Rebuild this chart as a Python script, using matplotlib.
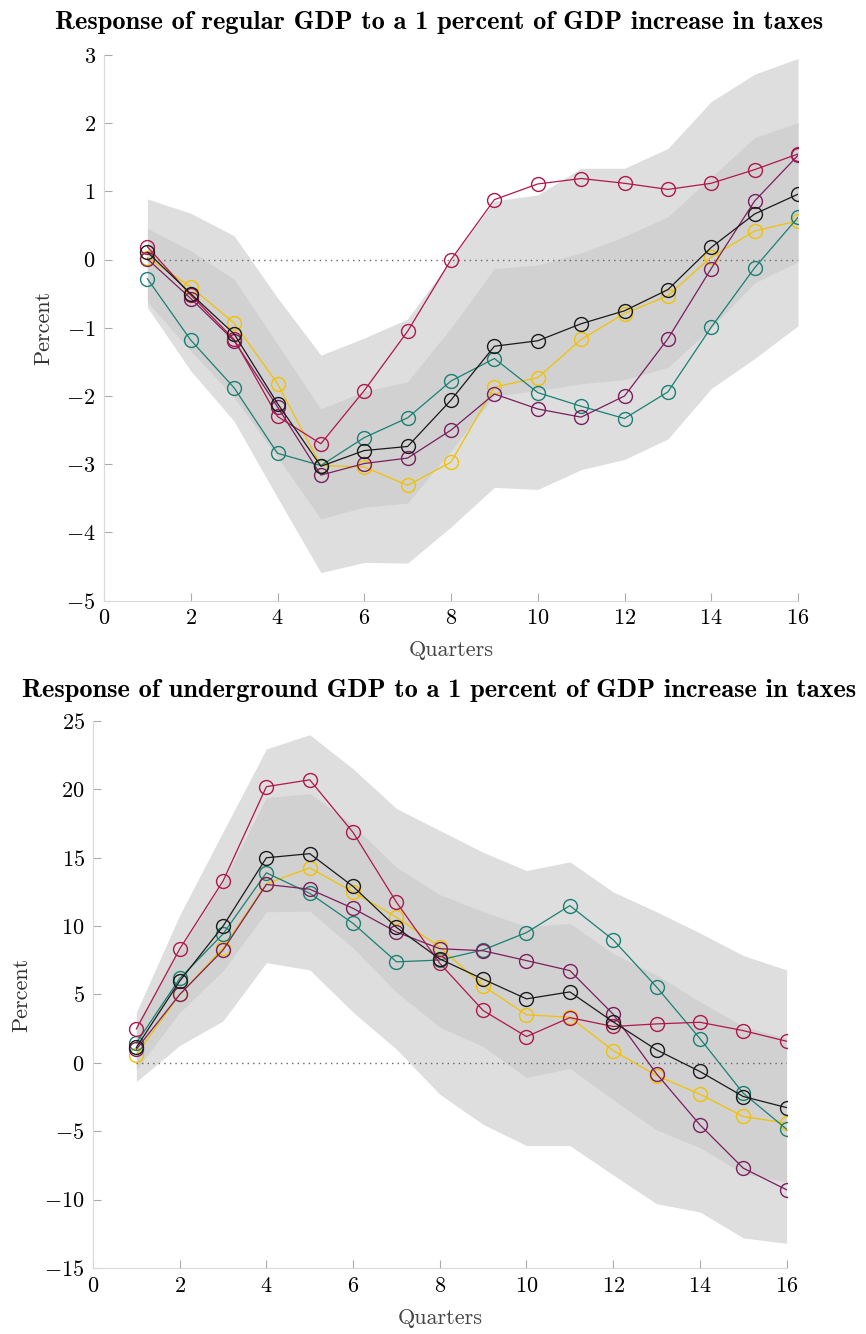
import numpy as np
import matplotlib
matplotlib.use('Agg')
import matplotlib.pyplot as plt

plt.rcParams['font.family'] = 'serif'
plt.rcParams['font.serif'] = ['cmr10']
plt.rcParams['mathtext.fontset'] = 'cm'
plt.rcParams['axes.formatter.use_mathtext'] = True

quarters = list(range(1, 17))

# regular GDP responses
reg_black = [0.11, -0.50, -1.09, -2.11, -3.03, -2.80, -2.74, -2.06, -1.27, -1.19, -0.94, -0.75, -0.44, 0.18, 0.67, 0.96]
reg_red = [0.19, -0.52, -1.17, -2.30, -2.70, -1.92, -1.05, 0.00, 0.88, 1.11, 1.19, 1.12, 1.03, 1.12, 1.32, 1.55]
reg_purple = [0.01, -0.57, -1.19, -2.16, -3.16, -2.99, -2.91, -2.50, -1.97, -2.19, -2.31, -2.00, -1.16, -0.13, 0.86, 1.53]
reg_teal = [-0.28, -1.18, -1.88, -2.84, -3.02, -2.61, -2.32, -1.78, -1.45, -1.95, -2.15, -2.33, -1.94, -0.99, -0.12, 0.62]
reg_yellow = [0.03, -0.40, -0.93, -1.82, -3.02, -3.04, -3.31, -2.97, -1.87, -1.73, -1.17, -0.79, -0.53, 0.04, 0.42, 0.57]
reg_outer_hi = [0.89, 0.68, 0.35, -0.56, -1.40, -1.15, -0.87, 0.00, 0.86, 0.95, 1.34, 1.34, 1.63, 2.32, 2.72, 2.95]
reg_inner_hi = [0.46, 0.13, -0.29, -1.24, -2.19, -1.93, -1.79, -1.00, -0.13, -0.08, 0.10, 0.34, 0.63, 1.21, 1.79, 2.01]
reg_inner_lo = [-0.62, -1.34, -2.02, -2.90, -3.80, -3.63, -3.57, -2.80, -2.00, -1.92, -1.82, -1.76, -1.58, -1.00, -0.34, -0.03]
reg_outer_lo = [-0.70, -1.63, -2.37, -3.49, -4.59, -4.44, -4.45, -3.92, -3.34, -3.37, -3.08, -2.93, -2.63, -1.89, -1.45, -0.97]

# underground GDP responses
und_black = [1.13, 5.98, 10.0, 15.0, 15.3, 12.9, 9.9, 7.6, 6.12, 4.68, 5.19, 3.0, 0.95, -0.63, -2.46, -3.27]
und_red = [2.48, 8.33, 13.3, 20.2, 20.7, 16.85, 11.75, 7.28, 3.83, 1.92, 3.31, 2.66, 2.85, 2.97, 2.36, 1.58]
und_purple = [1.0, 5.0, 8.25, 13.05, 12.7, 11.3, 9.57, 8.35, 8.2, 7.48, 6.75, 3.56, -0.8, -4.53, -7.7, -9.28]
und_teal = [1.46, 6.17, 9.43, 13.9, 12.4, 10.2, 7.39, 7.52, 8.26, 9.53, 11.5, 9.0, 5.55, 1.78, -2.22, -4.85]
und_yellow = [0.6, 5.0, 8.4, 13.1, 14.26, 12.5, 10.65, 8.46, 5.63, 3.51, 3.34, 0.9, -0.93, -2.29, -3.92, -4.41]
und_outer_hi = [3.7, 10.8, 16.9, 22.96, 24.0, 21.5, 18.6, 17.0, 15.4, 14.06, 14.7, 12.5, 11.05, 9.5, 7.85, 6.8]
und_inner_hi = [2.8, 8.2, 13.2, 19.4, 19.7, 17.4, 14.3, 12.3, 11.06, 9.97, 10.2, 8.0, 6.43, 4.48, 2.66, 1.8]
und_inner_lo = [-0.5, 3.7, 6.74, 11.05, 11.1, 8.4, 5.17, 2.61, 1.2, -1.07, -0.41, -2.7, -4.9, -6.2, -8.1, -8.7]
und_outer_lo = [-1.37, 1.27, 3.07, 7.33, 6.8, 3.7, 1.0, -2.3, -4.5, -6.05, -6.05, -8.2, -10.3, -10.9, -12.8, -13.2]

c_black = '#1a1a1a'
c_red = '#b0174a'
c_purple = '#7b1e5f'
c_teal = '#1a8073'
c_yellow = '#f2c200'


def panel(ax, black, red, purple, teal, yellow, ohi, ihi, ilo, olo, ylim, yticks):
    ax.fill_between(quarters, olo, ohi, color='#dedede', lw=0, zorder=1)
    ax.fill_between(quarters, ilo, ihi, color='#d1d1d1', lw=0, zorder=2)
    ax.plot([1, 16], [0, 0], ls=(0, (1, 3)), color='#666666', lw=1.0, zorder=3)
    for ys, c in [(yellow, c_yellow), (teal, c_teal), (purple, c_purple), (red, c_red), (black, c_black)]:
        ax.plot(quarters, ys, color=c, lw=0.9, marker='o', ms=10, mfc='none', mec=c, mew=1.0, zorder=4)
    ax.set_xlim(0, 16)
    ax.set_ylim(*ylim)
    ax.set_xticks(range(0, 17, 2))
    ax.set_yticks(yticks)
    for s in ['top', 'right']:
        ax.spines[s].set_visible(False)
    for s in ['left', 'bottom']:
        ax.spines[s].set_color('#d9d9d9')
    ax.tick_params(direction='in', length=6, color='#aaaaaa', labelsize=16, pad=6)
    ax.set_xlabel('Quarters', fontsize=16, color='#444444', labelpad=9)
    ax.set_ylabel('Percent', fontsize=16, color='#333333', labelpad=9)


fig = plt.figure(figsize=(8.66, 13.34), dpi=100)
ax1 = fig.add_axes([0.1201, 0.5498, 0.8014, 0.4089])
ax2 = fig.add_axes([0.1074, 0.0495, 0.8009, 0.4100])

panel(ax1, reg_black, reg_red, reg_purple, reg_teal, reg_yellow,
      reg_outer_hi, reg_inner_hi, reg_inner_lo, reg_outer_lo, (-5, 3), range(-5, 4))
panel(ax2, und_black, und_red, und_purple, und_teal, und_yellow,
      und_outer_hi, und_inner_hi, und_inner_lo, und_outer_lo, (-15, 25), range(-15, 26, 5))

fig.text(439 / 866, 1 - 22 / 1334, 'Response of regular GDP to a 1 percent of GDP increase in taxes',
         fontsize=19, fontfamily='cmb10', ha='center', va='center')
fig.text(439 / 866, 1 - 690 / 1334, 'Response of underground GDP to a 1 percent of GDP increase in taxes',
         fontsize=19, fontfamily='cmb10', ha='center', va='center')

fig.savefig('out.png', dpi=100)
